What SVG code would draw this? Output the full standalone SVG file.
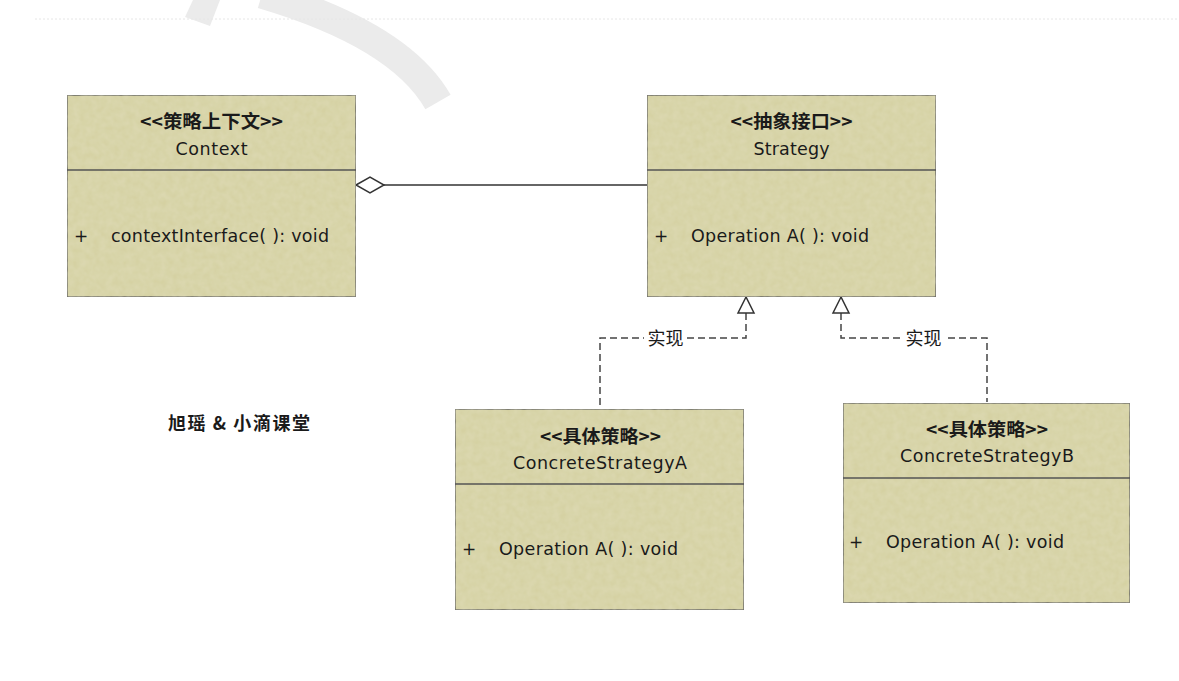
<svg xmlns="http://www.w3.org/2000/svg" width="1179" height="681" viewBox="0 0 1179 681">
<style>
.box{fill:#d4d0a0;stroke:#555;stroke-width:1.5}
.div{stroke:#555;stroke-width:1.5}
.t{font-family:"DejaVu Sans","Noto Sans CJK SC",sans-serif;fill:#1a1a1a}
.st{font-family:"Noto Sans CJK SC",sans-serif;font-size:18px;font-weight:bold;text-anchor:middle}
.nm{font-size:17.5px;text-anchor:middle}
.op{font-size:17.5px}
.pl{font-size:17px}
.dash{fill:none;stroke:#444;stroke-width:1.5;stroke-dasharray:7 4}
.lbl{font-family:"Noto Sans CJK SC",sans-serif;font-size:18px;text-anchor:middle}
</style>
<defs>
<filter id="tex" x="0" y="0" width="1" height="1">
<feTurbulence type="fractalNoise" baseFrequency="0.15" numOctaves="2" seed="3" result="n"/>
<feColorMatrix in="n" type="matrix" values="0 0 0 0 0.83  0 0 0 0 0.81  0 0 0 0 0.62  0 0 0 0.35 0" result="c"/>
<feComposite in="c" in2="SourceGraphic" operator="in" result="cc"/>
<feMerge><feMergeNode in="SourceGraphic"/><feMergeNode in="cc"/></feMerge>
</filter>
</defs>
<rect width="1179" height="681" fill="#fff"/>
<g id="background">
<polygon points="193,0 220,0 210,26 185,17" fill="#ebebeb"/>
<path d="M 262,-6 Q 400,35 438,102" fill="none" stroke="#ebebeb" stroke-width="29"/>
<line x1="35" y1="19" x2="1179" y2="19" stroke="#e6e6e6" stroke-width="1" stroke-dasharray="2 2"/>
</g>
<g id="connectors">
<line x1="384" y1="185" x2="647" y2="185" stroke="#333" stroke-width="1.5"/>
<polygon points="356,185 370,177 384,185 370,193" fill="#fff" stroke="#333" stroke-width="1.5"/>
<path class="dash" d="M 746,313 V 338 H 600 V 409"/>
<path class="dash" d="M 841,313 V 338 H 987 V 402"/>
<polygon points="746,297 738,313 754,313" fill="#fff" stroke="#333" stroke-width="1.5"/>
<polygon points="841,297 833,313 849,313" fill="#fff" stroke="#333" stroke-width="1.5"/>
<rect x="644" y="327" width="43" height="22" fill="#fff"/>
<text class="lbl" x="665.5" y="345" fill="#1a1a1a">实现</text>
<rect x="902" y="327" width="43" height="22" fill="#fff"/>
<text class="lbl" x="923.5" y="345" fill="#1a1a1a">实现</text>
</g>
<g id="context">
<rect class="box" x="67" y="95" width="289" height="202" filter="url(#tex)"/>
<line class="div" x1="67" y1="170" x2="356" y2="170"/>
<text class="st" x="211.5" y="128" fill="#1a1a1a" textLength="143" lengthAdjust="spacingAndGlyphs">&lt;&lt;策略上下文&gt;&gt;</text>
<text class="t nm" x="211.5" y="155" textLength="72">Context</text>
<text class="t pl" x="74" y="242">+</text>
<text class="t op" x="111" y="242" textLength="218">contextInterface( ): void</text>
</g>
<g id="strategy">
<rect class="box" x="647" y="95" width="289" height="202" filter="url(#tex)"/>
<line class="div" x1="647" y1="170" x2="936" y2="170"/>
<text class="st" x="791.5" y="128" fill="#1a1a1a" textLength="122" lengthAdjust="spacingAndGlyphs">&lt;&lt;抽象接口&gt;&gt;</text>
<text class="t nm" x="791.5" y="155" textLength="76">Strategy</text>
<text class="t pl" x="654" y="242">+</text>
<text class="t op" x="691" y="242" textLength="178">Operation A( ): void</text>
</g>
<g id="concreteA">
<rect class="box" x="455" y="409" width="289" height="201" filter="url(#tex)"/>
<line class="div" x1="455" y1="484" x2="744" y2="484"/>
<text class="st" x="600.5" y="443" fill="#1a1a1a" textLength="121" lengthAdjust="spacingAndGlyphs">&lt;&lt;具体策略&gt;&gt;</text>
<text class="t nm" x="600" y="469" textLength="174">ConcreteStrategyA</text>
<text class="t pl" x="462" y="555">+</text>
<text class="t op" x="499" y="555" textLength="179">Operation A( ): void</text>
</g>
<g id="concreteB">
<rect class="box" x="843" y="403" width="287" height="200" filter="url(#tex)"/>
<line class="div" x1="843" y1="478" x2="1130" y2="478"/>
<text class="st" x="987" y="436" fill="#1a1a1a" textLength="122" lengthAdjust="spacingAndGlyphs">&lt;&lt;具体策略&gt;&gt;</text>
<text class="t nm" x="987" y="462" textLength="174">ConcreteStrategyB</text>
<text class="t pl" x="849" y="548">+</text>
<text class="t op" x="886" y="548" textLength="178">Operation A( ): void</text>
</g>
<g id="watermark">
<text x="168" y="430" font-family="Noto Sans CJK SC,sans-serif" font-size="18" font-weight="bold" fill="#1a1a1a" textLength="142">旭瑶 &amp; 小滴课堂</text>
</g>
</svg>
